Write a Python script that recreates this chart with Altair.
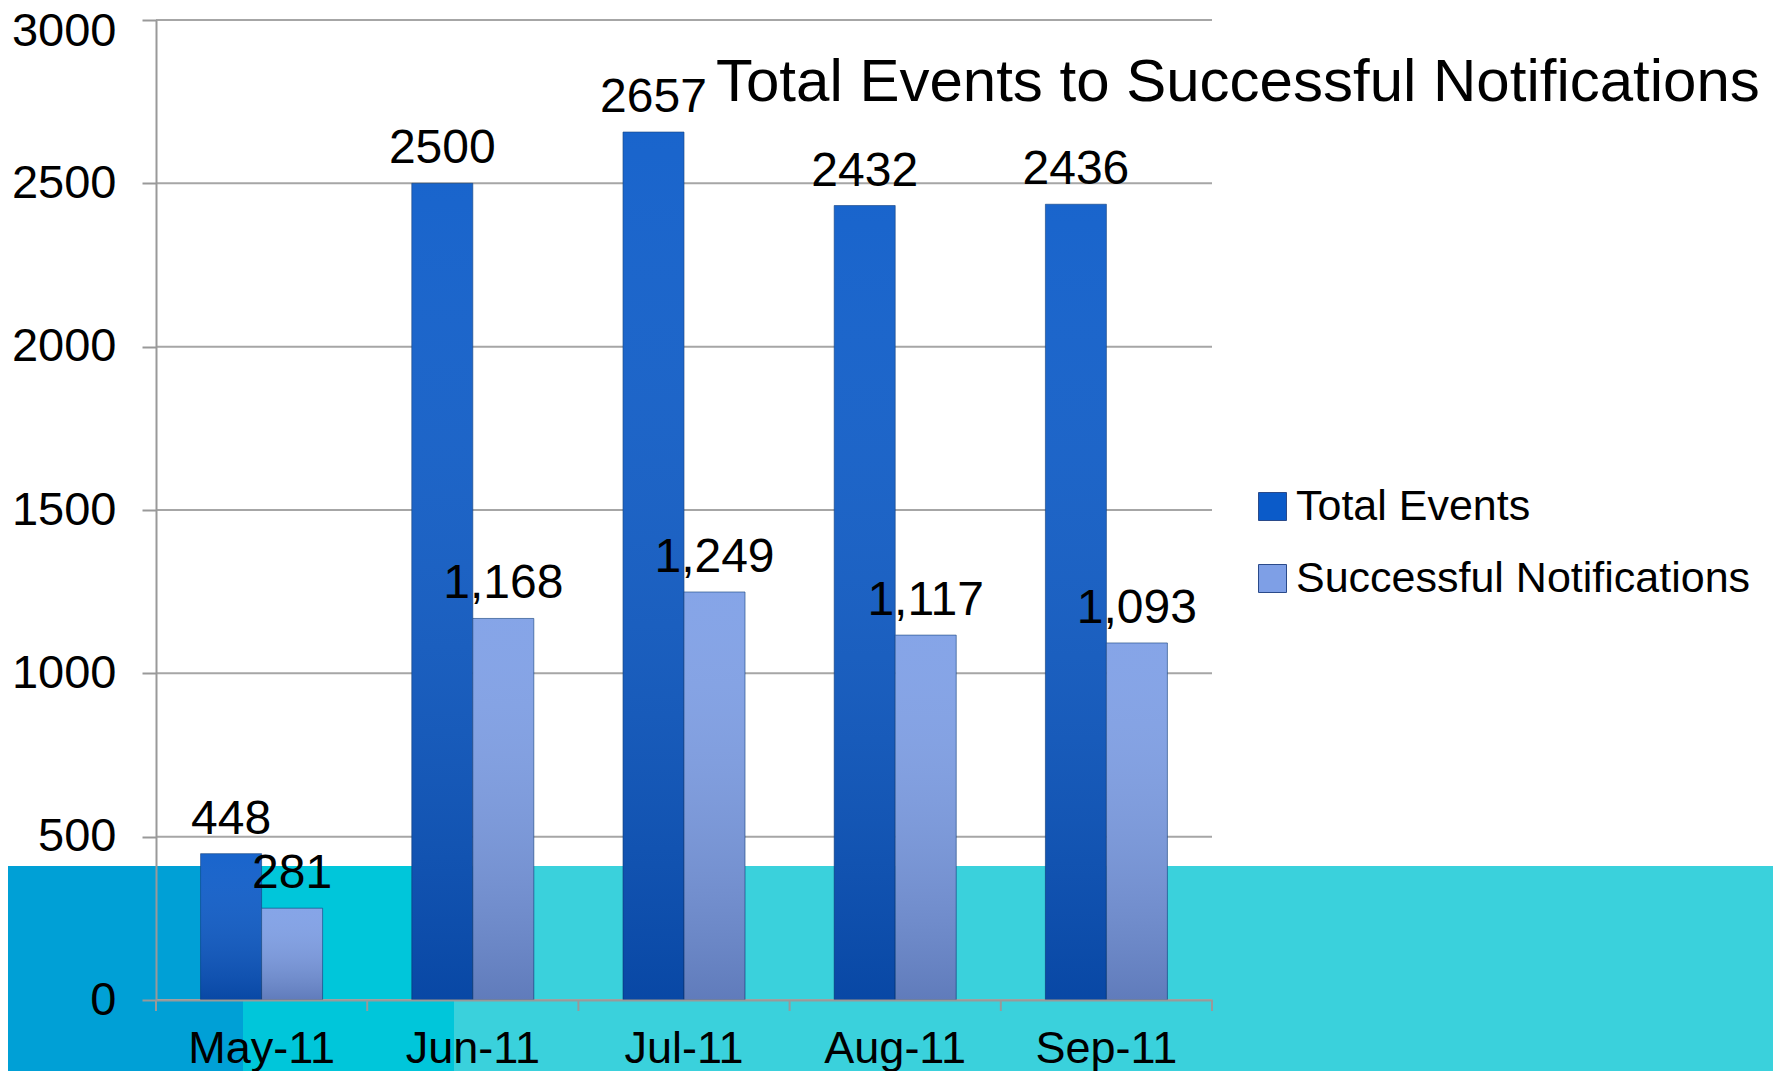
import altair as alt
import pandas as pd

months = ["May-11", "Jun-11", "Jul-11", "Aug-11", "Sep-11"]
series_names = ["Total Events", "Successful Notifications"]
total_events = [448, 2500, 2657, 2432, 2436]
successful = [281, 1168, 1249, 1117, 1093]
y_ticks = [0, 500, 1000, 1500, 2000, 2500, 3000]
title_text = "Total Events to Successful Notifications"

rows = []
for m, t, s in zip(months, total_events, successful):
    rows.append({"month": m, "series": series_names[0], "value": t, "label": str(t)})
    rows.append({"month": m, "series": series_names[1], "value": s, "label": f"{s:,}"})
df = pd.DataFrame(rows)
df_months = pd.DataFrame({"month": months})
df_grid = pd.DataFrame({"v": y_ticks})
df_one = pd.DataFrame({"k": [0]})

FONT = "Liberation Sans"
W, H = 1056, 980

x_scale = alt.Scale(domain=months, paddingInner=0, paddingOuter=0)
y_scale = alt.Scale(domain=[0, 3000], nice=False)
off_scale = alt.Scale(domain=series_names, paddingInner=0, paddingOuter=0.731)

# decorative background band
band = alt.Chart(df_one).mark_rect(color="#3ad1dc").encode(
    x=alt.value(-160), x2=alt.value(1700), y=alt.value(846), y2=alt.value(1100))
band_dark = alt.Chart(df_one).mark_rect(color="#00a0d6").encode(
    x=alt.value(-160), x2=alt.value(87), y=alt.value(846), y2=alt.value(1100))
band_mid = alt.Chart(df_one).mark_rect(color="#00c6da").encode(
    x=alt.value(87), x2=alt.value(298), y=alt.value(846), y2=alt.value(1100))

grid = alt.Chart(df_grid).mark_rule(color="#a6a6a6", strokeWidth=2).encode(
    y=alt.Y("v:Q", scale=y_scale), x=alt.value(0), x2=alt.value(W))

base = alt.Chart(df).encode(
    x=alt.X("month:N", scale=x_scale, sort=months,
            axis=alt.Axis(title=None, ticks=False, tickSize=0, domain=True,
                          domainColor="#999999", domainWidth=2, labelFont=FONT,
                          labelFontSize=45, labelColor="#000000", labelPadding=26,
                          labelAngle=0, zindex=1)),
    xOffset=alt.XOffset("series:N", scale=off_scale, sort=series_names),
    y=alt.Y("value:Q", scale=y_scale,
            axis=alt.Axis(title=None, values=y_ticks, grid=False, tickSize=14,
                          tickColor="#999999", tickWidth=2, domainColor="#999999",
                          domainWidth=2, labelFont=FONT, labelFontSize=47,
                          labelColor="#000000", labelPadding=26, format="d",
                          labelOffset={"condition": {"test": "datum.value == 3000",
                                                     "value": 11}, "value": 0},
                          zindex=1)),
)

bars = base.mark_bar(stroke="#0a3a7a", strokeWidth=1, strokeOpacity=0.6).encode(
    color=alt.Color("series:N", scale=alt.Scale(domain=series_names,
                                                 range=["#0b5bc9", "#7e9fe6"]),
                    sort=series_names,
                    legend=alt.Legend(orient="none", legendX=1095, legendY=465,
                                      title=None, symbolType="square",
                                      symbolSize=784, labelFont=FONT,
                                      labelFontSize=43, labelColor="#000000",
                                      labelLimit=1000, rowPadding=28,
                                      labelOffset=2, padding=0,
                                      symbolStrokeWidth=1,
                                      symbolStrokeColor="#2a4a8a")))

shade = base.mark_bar(
    color=alt.LinearGradient(
        gradient="linear", x1=0, y1=0, x2=0, y2=1,
        stops=[alt.GradientStop(color="rgba(255,255,255,0.06)", offset=0),
               alt.GradientStop(color="rgba(0,10,50,0.24)", offset=1)]))

labels = base.mark_text(font=FONT, fontSize=48, color="#000000",
                        baseline="alphabetic", dy=-20).encode(text="label:N")

ticks_start = alt.Chart(df_months).mark_rule(color="#999999", strokeWidth=2).encode(
    x=alt.X("month:N", scale=x_scale, sort=months, bandPosition=0),
    y=alt.value(H), y2=alt.value(H + 11))
ticks_end = alt.Chart(df_months.tail(1)).mark_rule(color="#999999", strokeWidth=2).encode(
    x=alt.X("month:N", scale=x_scale, sort=months, bandPosition=1),
    y=alt.value(H), y2=alt.value(H + 11))

chart = alt.layer(band, band_dark, band_mid, grid, bars, shade, labels,
                  ticks_start, ticks_end).properties(
    width=W, height=H,
    title=alt.TitleParams(title_text, anchor="start", frame="group", dx=560,
                          dy=154, offset=0, baseline="alphabetic", font=FONT,
                          fontSize=60, fontWeight="normal", color="#000000"),
    autosize=alt.AutoSizeParams(type="none"),
    padding={"left": 148, "top": 12, "right": 561, "bottom": 71},
).configure_view(stroke=None)

chart.save("out.html", embed_options={"renderer": "svg", "actions": False})
